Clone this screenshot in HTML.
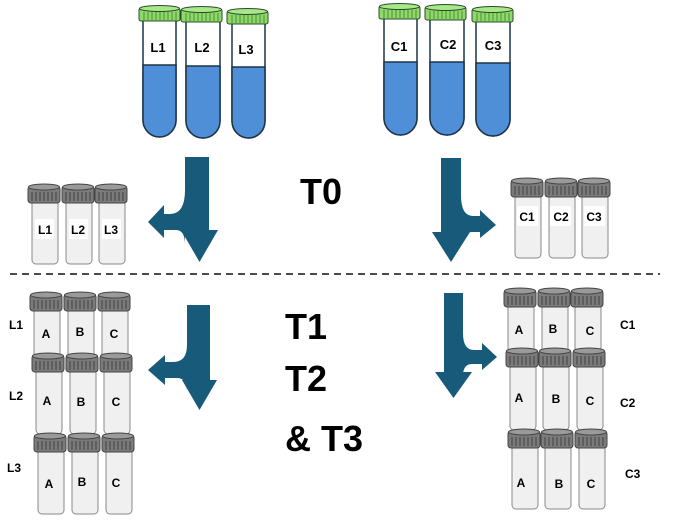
<!DOCTYPE html>
<html><head><meta charset="utf-8"><style>
html,body{margin:0;padding:0;background:#fff}
svg{display:block}
text{font-family:"Liberation Sans",Arial,sans-serif;font-weight:bold}
</style></head><body>
<svg width="673" height="522" viewBox="0 0 673 522" xmlns="http://www.w3.org/2000/svg">
<defs>
<g id="cap">
<rect x="0" y="3" width="32" height="17" rx="3" fill="#7b7b7b" stroke="#444" stroke-width="1"/>
<ellipse cx="16" cy="4" rx="15.5" ry="3" fill="#9a9a9a" stroke="#444" stroke-width="1"/>
<g stroke="#333" stroke-width="0.8">
<line x1="4" y1="9" x2="4" y2="18"/><line x1="8" y1="9" x2="8" y2="18"/><line x1="12" y1="9" x2="12" y2="18"/><line x1="16" y1="9" x2="16" y2="18"/><line x1="20" y1="9" x2="20" y2="18"/><line x1="24" y1="9" x2="24" y2="18"/><line x1="28" y1="9" x2="28" y2="18"/>
</g>
</g>
<g id="gcap">
<rect x="0" y="3" width="41" height="13" rx="2" fill="#8fd96a" stroke="#2b4a2b" stroke-width="1"/>
<ellipse cx="20.5" cy="3.5" rx="20" ry="3" fill="#a8e88a" stroke="#2b4a2b" stroke-width="1"/>
<g stroke="#3a7a2a" stroke-width="0.8">
<line x1="5" y1="7" x2="5" y2="15"/><line x1="9" y1="7" x2="9" y2="15"/><line x1="13" y1="7" x2="13" y2="15"/><line x1="17" y1="7" x2="17" y2="15"/><line x1="21" y1="7" x2="21" y2="15"/><line x1="25" y1="7" x2="25" y2="15"/><line x1="29" y1="7" x2="29" y2="15"/><line x1="33" y1="7" x2="33" y2="15"/><line x1="37" y1="7" x2="37" y2="15"/>
</g>
</g>
</defs>

<!-- Big tubes -->
<g stroke="#1d3446" stroke-width="1.5">
<path d="M143,20 V120 A16.5,17 0 0 0 176,120 V20 Z" fill="#fff"/>
<path d="M143,65 V120 A16.5,17 0 0 0 176,120 V65 Z" fill="#4f8fd8"/>
<path d="M186,21 V121 A17,17 0 0 0 220,121 V21 Z" fill="#fff"/>
<path d="M186,66 V121 A17,17 0 0 0 220,121 V66 Z" fill="#4f8fd8"/>
<path d="M232,22 V121 A16.5,17 0 0 0 265,121 V22 Z" fill="#fff"/>
<path d="M232,67 V121 A16.5,17 0 0 0 265,121 V67 Z" fill="#4f8fd8"/>
<path d="M384,18 V118 A16.5,17 0 0 0 417,118 V18 Z" fill="#fff"/>
<path d="M384,62 V118 A16.5,17 0 0 0 417,118 V62 Z" fill="#4f8fd8"/>
<path d="M430,19 V118 A17,17 0 0 0 464,118 V19 Z" fill="#fff"/>
<path d="M430,62 V118 A17,17 0 0 0 464,118 V62 Z" fill="#4f8fd8"/>
<path d="M476,21 V119 A17,17 0 0 0 510,119 V21 Z" fill="#fff"/>
<path d="M476,63 V119 A17,17 0 0 0 510,119 V63 Z" fill="#4f8fd8"/>
</g>
<use href="#gcap" x="139" y="5"/><use href="#gcap" x="181" y="6"/><use href="#gcap" x="227" y="8"/>
<use href="#gcap" x="379" y="3"/><use href="#gcap" x="425" y="4"/><use href="#gcap" x="472" y="6"/>
<g font-size="13" text-anchor="middle">
<text x="158" y="52">L1</text><text x="202" y="52">L2</text><text x="246" y="54">L3</text>
<text x="399" y="51">C1</text><text x="448" y="49">C2</text><text x="493" y="50">C3</text>
</g>

<!-- Vials -->
<g fill="#f0f0f0" stroke="#888" stroke-width="1">
<rect x="32" y="200" width="26" height="64" rx="4"/><rect x="66" y="200" width="26" height="64" rx="4"/><rect x="99" y="200" width="26" height="64" rx="4"/>
<rect x="515" y="194" width="26" height="64" rx="4"/><rect x="549" y="194" width="26" height="64" rx="4"/><rect x="582" y="194" width="26" height="64" rx="4"/>
<!-- bottom left -->
<rect x="34" y="308" width="26" height="60" rx="4"/><rect x="68" y="308" width="26" height="60" rx="4"/><rect x="102" y="308" width="26" height="60" rx="4"/>
<rect x="36" y="369" width="26" height="65" rx="4"/><rect x="70" y="369" width="26" height="65" rx="4"/><rect x="104" y="369" width="26" height="65" rx="4"/>
<rect x="38" y="449" width="26" height="65" rx="4"/><rect x="72" y="449" width="26" height="65" rx="4"/><rect x="106" y="449" width="26" height="65" rx="4"/>
<!-- bottom right -->
<rect x="508" y="304" width="26" height="60" rx="4"/><rect x="542" y="304" width="26" height="60" rx="4"/><rect x="575" y="304" width="26" height="60" rx="4"/>
<rect x="510" y="364" width="26" height="66" rx="4"/><rect x="543" y="364" width="26" height="66" rx="4"/><rect x="577" y="364" width="26" height="66" rx="4"/>
<rect x="512" y="445" width="26" height="64" rx="4"/><rect x="545" y="445" width="26" height="64" rx="4"/><rect x="579" y="445" width="26" height="64" rx="4"/>
</g>
<use href="#cap" x="28" y="183"/><use href="#cap" x="62" y="183"/><use href="#cap" x="95" y="183"/>
<use href="#cap" x="511" y="177"/><use href="#cap" x="545" y="177"/><use href="#cap" x="578" y="177"/>
<use href="#cap" x="30" y="291"/><use href="#cap" x="64" y="291"/><use href="#cap" x="98" y="291"/>
<use href="#cap" x="32" y="352"/><use href="#cap" x="66" y="352"/><use href="#cap" x="100" y="352"/>
<use href="#cap" x="34" y="432"/><use href="#cap" x="68" y="432"/><use href="#cap" x="102" y="432"/>
<use href="#cap" x="504" y="287"/><use href="#cap" x="538" y="287"/><use href="#cap" x="571" y="287"/>
<use href="#cap" x="506" y="347"/><use href="#cap" x="539" y="347"/><use href="#cap" x="573" y="347"/>
<use href="#cap" x="508" y="428"/><use href="#cap" x="541" y="428"/><use href="#cap" x="575" y="428"/>

<g fill="#fff">
<rect x="35" y="219" width="19" height="20"/><rect x="69" y="219" width="19" height="20"/><rect x="102" y="219" width="19" height="20"/>
<rect x="517" y="206" width="21" height="20"/><rect x="550" y="206" width="21" height="20"/><rect x="584" y="206" width="21" height="20"/>
</g>
<g font-size="12" text-anchor="middle">
<text x="45" y="234">L1</text><text x="78" y="234">L2</text><text x="111" y="234">L3</text>
<text x="527" y="221">C1</text><text x="561" y="221">C2</text><text x="594" y="221">C3</text>
</g>
<g font-size="12" text-anchor="middle">
<text x="46" y="338">A</text><text x="80" y="336">B</text><text x="114" y="338">C</text>
<text x="47" y="405">A</text><text x="81" y="406">B</text><text x="116" y="406">C</text>
<text x="49" y="488">A</text><text x="82" y="486">B</text><text x="116" y="487">C</text>
<text x="519" y="334">A</text><text x="553" y="333">B</text><text x="590" y="335">C</text>
<text x="519" y="402">A</text><text x="556" y="403">B</text><text x="590" y="405">C</text>
<text x="521" y="487">A</text><text x="559" y="488">B</text><text x="591" y="488">C</text>
</g>
<g font-size="12">
<text x="9" y="329">L1</text><text x="9" y="400">L2</text><text x="7" y="472">L3</text>
<text x="620" y="329">C1</text><text x="620" y="407">C2</text><text x="625" y="478">C3</text>
</g>

<!-- Arrows -->
<g fill="#185a7a">
<!-- left T0 -->
<rect x="185" y="157" width="24" height="75"/>
<polygon points="181,230 218,230 199.5,262"/>
<path d="M185,190 Q185,214 170,214 L164,214 L164,205 L148,222 L164,238 L164,230 L176,230 Q185,230 185,245 Z"/>
<!-- right T0 -->
<rect x="441" y="158" width="20" height="75"/>
<polygon points="432,232 470,232 451,262"/>
<path d="M461,195 Q461,216 473,216 L480,216 L480,210 L496,225 L480,238 L480,232 L472,232 Q461,232 461,245 Z"/>
<!-- left bottom -->
<rect x="187" y="305" width="23" height="78"/>
<polygon points="182,380 217,380 199.5,410"/>
<path d="M187,345 Q187,362 173,362 L165,362 L165,355 L148,370 L165,385 L165,378 L177,378 Q187,378 187,392 Z"/>
<!-- right bottom -->
<rect x="444" y="293" width="19" height="82"/>
<polygon points="435,372 472,372 453.5,398"/>
<path d="M463,333 Q463,350 474,350 L482,350 L482,343 L497,357 L482,370 L482,364 L472,364 Q463,364 463,376 Z"/>
</g>

<line x1="10" y1="274" x2="660" y2="274" stroke="#111" stroke-width="1.6" stroke-dasharray="7,5"/>

<g font-size="36">
<text x="300" y="204">T0</text>
<text x="285" y="339">T1</text>
<text x="285" y="391">T2</text>
<text x="285" y="451">&amp; T3</text>
</g>
</svg>
</body></html>
